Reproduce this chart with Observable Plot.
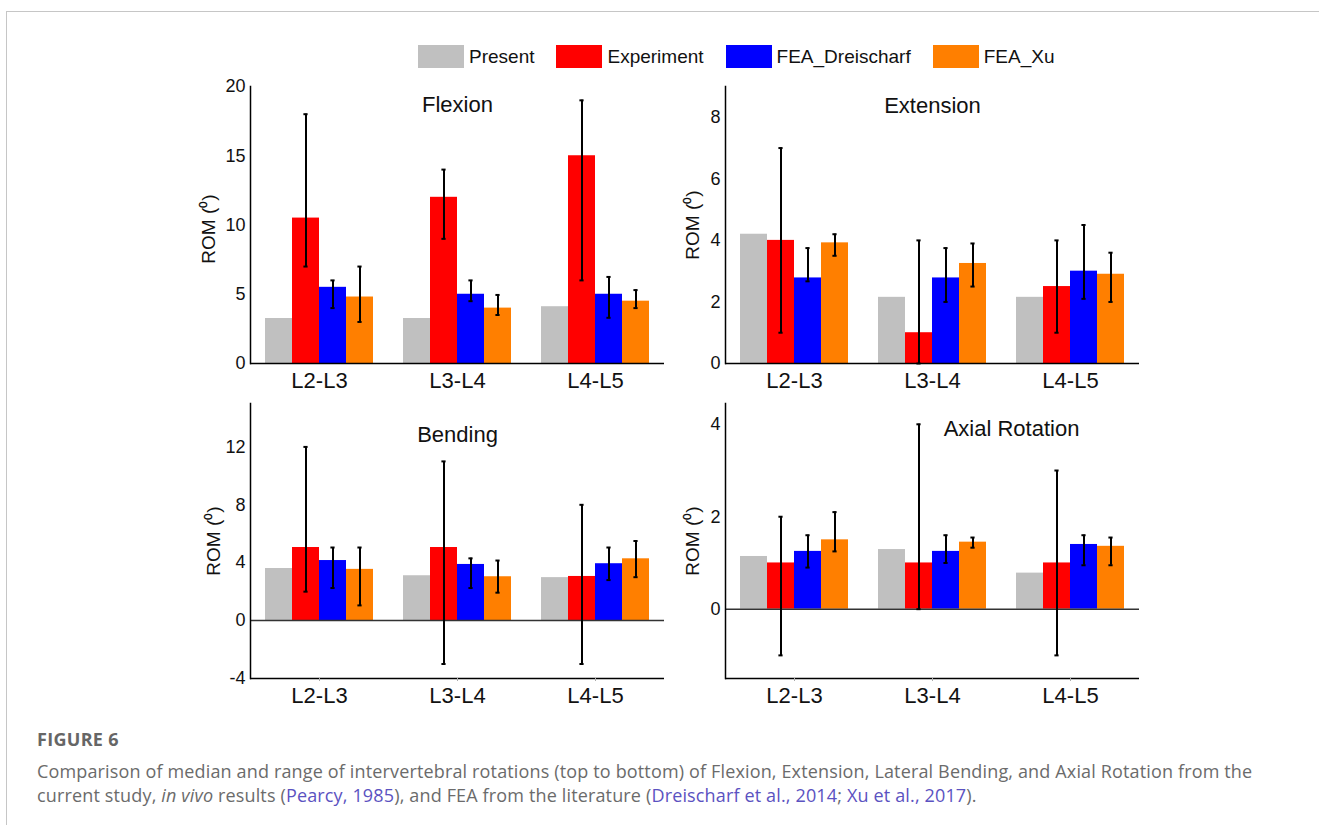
<!DOCTYPE html>
<html>
<head>
<meta charset="utf-8">
<script src="https://cdn.jsdelivr.net/npm/d3@7"></script>
<script src="https://cdn.jsdelivr.net/npm/@observablehq/plot@0.6"></script>
<style>
html, body { margin: 0; padding: 0; background: #fff; }
body { width: 1319px; height: 825px; position: relative; overflow: hidden; font-family: "Liberation Sans", Arial, sans-serif; }
#border { position: absolute; left: 6px; top: 11px; right: -2px; bottom: -2px; border-top: 1.5px solid #c6c6c6; border-left: 1.5px solid #c6c6c6; }
.panel { position: absolute; }
#legend { position: absolute; left: 418px; top: 45px; display: flex; align-items: center; font-size: 19px; color: #111; white-space: nowrap; }
.item { display: flex; align-items: center; margin-right: 22px; }
.sw { width: 46px; height: 23px; margin-right: 5px; }
#fig { position: absolute; left: 37px; top: 728px; font-family: "Open Sans", sans-serif; font-weight: 700; font-size: 18px; line-height: 22px; letter-spacing: 0.3px; color: #666; }
#cap { position: absolute; left: 37px; top: 759px; font-family: "Open Sans", sans-serif; font-size: 18px; line-height: 24px; letter-spacing: 0.15px; color: #6b6b6b; white-space: nowrap; }
#cap a { color: #5b52c1; text-decoration: none; }
</style>
</head>
<body>
<div id="border"></div>
<div id="legend"></div>
<div id="fig">FIGURE 6</div>
<div id="cap">Comparison of median and range of intervertebral rotations (top to bottom) of Flexion, Extension, Lateral Bending, and Axial Rotation from the<br>current study, <i>in vivo</i> results (<a>Pearcy, 1985</a>), and FEA from the literature (<a>Dreischarf et al., 2014</a>; <a>Xu et al., 2017</a>).</div>
<script>
// ---- data ----
const segments = ["L2-L3", "L3-L4", "L4-L5"];
const seriesNames = ["Present", "Experiment", "FEA_Dreischarf", "FEA_Xu"];
const seriesColors = ["#c0c0c0", "#ff0000", "#0000ff", "#ff7f00"];

// rows = series (Present, Experiment, FEA_Dreischarf, FEA_Xu), columns = segments
const flexionMedian = [[3.25, 3.25, 4.1], [10.5, 12, 15], [5.5, 5, 5], [4.8, 4, 4.5]];
const flexionLow    = [null, [7, 9, 6], [4, 4.5, 3.3], [3, 3.5, 4]];
const flexionHigh   = [null, [18, 14, 19], [6, 6, 6.25], [7, 4.95, 5.3]];
const flexionTicks  = [0, 5, 10, 15, 20];

const extensionMedian = [[4.2, 2.15, 2.15], [4, 1, 2.5], [2.78, 2.78, 3.0], [3.92, 3.25, 2.9]];
const extensionLow    = [null, [1, 0, 1], [2.67, 2, 2.1], [3.5, 2.5, 2]];
const extensionHigh   = [null, [7, 4, 4], [3.75, 3.75, 4.5], [4.2, 3.9, 3.6]];
const extensionTicks  = [0, 2, 4, 6, 8];

const bendingMedian = [[3.6, 3.1, 2.97], [5.05, 5.05, 3.05], [4.15, 3.88, 3.93], [3.54, 3.03, 4.27]];
const bendingLow    = [null, [2, -3, -3], [2.25, 2.25, 2.8], [1.05, 1.93, 3.0]];
const bendingHigh   = [null, [12, 11, 8], [5.05, 4.3, 5.05], [5.05, 4.15, 5.5]];
const bendingTicks  = [-4, 0, 4, 8, 12];

const axialMedian = [[1.14, 1.29, 0.78], [1, 1, 1], [1.25, 1.25, 1.4], [1.5, 1.45, 1.36]];
const axialLow    = [null, [-1, 0, -1], [0.9, 1.0, 0.95], [1.25, 1.33, 0.95]];
const axialHigh   = [null, [2, 4, 3], [1.6, 1.6, 1.6], [2.1, 1.55, 1.55]];
const axialTicks  = [0, 2, 4];

const yLabel = "ROM (\u2070)";

// ---- legend ----
const legend = document.getElementById("legend");
seriesNames.forEach((s, i) => {
  const it = document.createElement("div");
  it.className = "item";
  const sw = document.createElement("div");
  sw.className = "sw";
  sw.style.background = seriesColors[i];
  const tx = document.createElement("span");
  tx.textContent = s;
  it.appendChild(sw); it.appendChild(tx);
  legend.appendChild(it);
});

// ---- panels ----
const panels = [
  {title: "Flexion", median: flexionMedian, low: flexionLow, high: flexionHigh, ticks: flexionTicks, domain: [0, 20],
   left: 179, top: 74, fw: 416, fh: 277, titleDy: 10, titleDx: 0, labelDx: -42, labelDy: 4, smallTicks: false},
  {title: "Extension", median: extensionMedian, low: extensionLow, high: extensionHigh, ticks: extensionTicks, domain: [0, 9],
   left: 654, top: 74, fw: 415, fh: 277, titleDy: 11, titleDx: 0, labelDx: -33, labelDy: 0, smallTicks: false},
  {title: "Bending", median: bendingMedian, low: bendingLow, high: bendingHigh, ticks: bendingTicks, domain: [-4, 15],
   left: 180, top: 391, fw: 414, fh: 275, titleDy: 23, titleDx: 0, labelDx: -37, labelDy: 0, smallTicks: true},
  {title: "Axial Rotation", median: axialMedian, low: axialLow, high: axialHigh, ticks: axialTicks, domain: [-1.5, 4.45],
   left: 654, top: 391, fw: 415, fh: 275, titleDy: 17, titleDx: 79, labelDx: -33, labelDy: 0, smallTicks: true}
];

const mL = 70, mR = 10, mT = 12, mB = 40;

for (const p of panels) {
  const rows = [];
  seriesNames.forEach((s, i) => segments.forEach((seg, j) => rows.push({
    segment: seg, series: s, value: p.median[i][j],
    lo: p.low[i] ? p.low[i][j] : null, hi: p.high[i] ? p.high[i][j] : null
  })));
  const ranges = rows.filter(d => d.lo != null);
  const capInset = 11.4;
  const marks = [
    Plot.barY(rows, {fx: "segment", x: "series", y: "value", fill: "series"})
  ];
  if (p.domain[0] < 0) marks.push(Plot.ruleY([0], {stroke: "#333", strokeWidth: 1.5}));
  marks.push(
    Plot.ruleX(ranges, {fx: "segment", x: "series", y1: "lo", y2: "hi", stroke: "#000", strokeWidth: 2}),
    Plot.tickY(ranges, {fx: "segment", x: "series", y: "lo", stroke: "#000", strokeWidth: 2, insetLeft: capInset, insetRight: capInset}),
    Plot.tickY(ranges, {fx: "segment", x: "series", y: "hi", stroke: "#000", strokeWidth: 2, insetLeft: capInset, insetRight: capInset}),
    Plot.ruleY([p.domain[0]], {stroke: "#000", strokeWidth: 1.5}),
    Plot.frame({anchor: "left", facetAnchor: "left", stroke: "#000", strokeWidth: 1.5}),
    Plot.axisY({ticks: p.ticks, tickFormat: d => String(d), tickSize: 0, tickPadding: 5, fontSize: 18, label: null}),
    Plot.axisFx({anchor: "bottom", tickSize: p.smallTicks ? 3 : 0, tickPadding: p.smallTicks ? 6 : 9, stroke: "#aaa", fill: "#111", fontSize: 22, label: null}),
    Plot.text([yLabel], {fx: () => segments[0], text: d => d, frameAnchor: "left", textAnchor: "middle", rotate: -90, dx: p.labelDx, dy: p.labelDy, fontSize: 19, fill: "#111"}),
    Plot.text([p.title], {fx: () => segments[1], text: d => d, frameAnchor: "top", dy: p.titleDy, dx: p.titleDx, fontSize: 22, fill: "#111"})
  );
  const chart = Plot.plot({
    width: mL + p.fw + mR,
    height: mT + p.fh + mB,
    marginLeft: mL, marginRight: mR, marginTop: mT, marginBottom: mB,
    x: {domain: seriesNames, axis: null, paddingInner: 0, paddingOuter: 0.5},
    fx: {domain: segments, padding: 0},
    y: {domain: p.domain},
    color: {domain: seriesNames, range: seriesColors},
    style: {fontFamily: "'Liberation Sans', Arial, sans-serif", color: "#111", background: "transparent", overflow: "visible"},
    marks
  });
  const wrap = document.createElement("div");
  wrap.className = "panel";
  wrap.style.left = p.left + "px";
  wrap.style.top = p.top + "px";
  wrap.appendChild(chart);
  document.body.appendChild(wrap);
}
</script>
</body>
</html>
